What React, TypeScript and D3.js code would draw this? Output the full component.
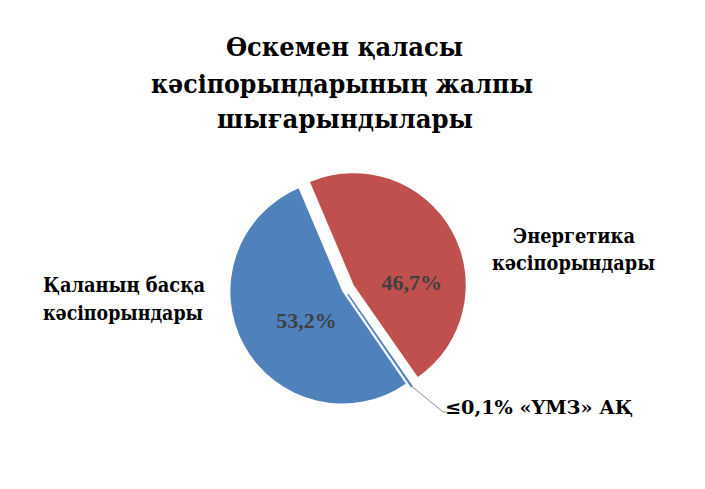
import * as d3 from "d3";

// values
const categories = ["Энергетика кәсіпорындары", "«ҮМЗ» АҚ", "Қаланың басқа кәсіпорындары"];
const shares = [46.7, 0.1, 53.2];
const valueLabels = ["46,7%", "", "53,2%"];
const colors = ["#C0504D", "#4F81BD", "#4F81BD"];
const explode = [10, 5, 3];
const titleLines = ["Өскемен қаласы", "кәсіпорындарының жалпы", "шығарындылары"];

const W = 705;
const H = 489;
const cx = 345;
const cy = 290;
const radius = 112;
const numFont = "'Liberation Serif', 'Times New Roman', serif";
const cyrFont = "'DejaVu Serif Condensed', 'DejaVu Serif', serif";

// where the value labels sit (polar offset from the slice vertex)
const labelRadius = [58, 0, 46];
const labelShift = [26, 0, -10]; // degrees off the slice's mid-angle

type Slice = d3.PieArcDatum<number>;

export default function App() {
  const pie = d3
    .pie<number>()
    .sort(null)
    .startAngle((-23 * Math.PI) / 180)
    .endAngle((-23 * Math.PI) / 180 + 2 * Math.PI)
    .value((d) => d);
  const slices = pie(shares);

  const arc = d3.arc<Slice>().innerRadius(0).outerRadius(radius);

  const polar = (angle: number, dist: number) => [Math.sin(angle) * dist, -Math.cos(angle) * dist];
  const mid = (s: Slice) => (s.startAngle + s.endAngle) / 2;

  // leader line for the tiny slice
  const tiny = slices[1];
  const [tox, toy] = polar(mid(tiny), explode[1]);
  const [tex, tey] = polar(mid(tiny), radius);
  const p0 = [cx + tox + tex, cy + toy + tey];
  const p1 = [443, 412];
  const p2 = [447, 412];

  const cyrText = (x: number, y: number, t: string, len: number, size: number, anchor = "middle") => (
    <text
      x={x}
      y={y}
      textAnchor={anchor}
      fontSize={size}
      textLength={len}
      lengthAdjust="spacingAndGlyphs"
    >
      {t}
    </text>
  );

  return (
    <svg width={W} height={H} style={{ position: "absolute", left: 0, top: 0, background: "#fff" }}>
      <g fontFamily={cyrFont} fontWeight="bold" fill="#000">
        {cyrText(344.5, 56, titleLines[0], 237, 26)}
        {cyrText(342, 93, titleLines[1], 382, 26)}
        {cyrText(345, 128, titleLines[2], 256, 26)}
      </g>

      <g>
        {slices.map((s, i) => {
          const [ox, oy] = polar(mid(s), explode[i]);
          return (
            <path
              key={i}
              d={arc(s) ?? ""}
              transform={`translate(${cx + ox},${cy + oy})`}
              fill={colors[i]}
              stroke={i === 1 ? colors[i] : "none"}
              strokeWidth={i === 1 ? 1.5 : 0}
            />
          );
        })}
        {slices.map((s, i) => {
          if (!valueLabels[i]) return null;
          const [ox, oy] = polar(mid(s), explode[i]);
          const [lx, ly] = polar(mid(s) + (labelShift[i] * Math.PI) / 180, labelRadius[i]);
          return (
            <text
              key={i}
              x={cx + ox + lx}
              y={cy + oy + ly}
              dy="0.35em"
              textAnchor="middle"
              fontFamily={numFont}
              fontWeight="bold"
              fontSize={22}
              fill="#404040"
            >
              {valueLabels[i]}
            </text>
          );
        })}
      </g>

      <polyline
        points={[p0, p1, p2].map((p) => p.join(",")).join(" ")}
        fill="none"
        stroke="#8c8c8c"
        strokeWidth={1}
      />

      <g fontFamily={cyrFont} fontWeight="bold" fill="#000">
        {cyrText(574, 243, "Энергетика", 122, 20)}
        {cyrText(573.5, 270, "кәсіпорындары", 163, 20)}
        {cyrText(124, 292, "Қаланың басқа", 162, 20)}
        {cyrText(123, 320, "кәсіпорындары", 160, 20)}
        {cyrText(445, 414, "≤0,1% " + categories[1], 188, 19, "start")}
      </g>
    </svg>
  );
}
